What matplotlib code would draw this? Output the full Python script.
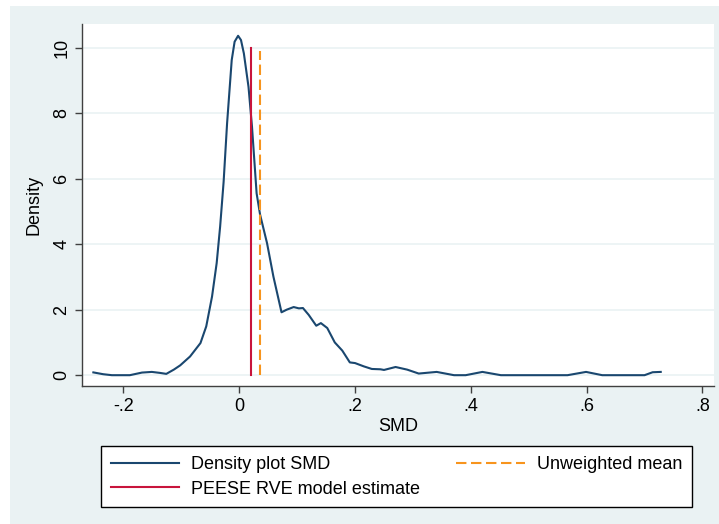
import matplotlib.pyplot as plt
from matplotlib.patches import Rectangle

# density curve of SMD
smd_x = [-0.252, -0.235, -0.220, -0.189, -0.168, -0.151, -0.137, -0.126, -0.113,
         -0.102, -0.085, -0.067, -0.057, -0.047, -0.039, -0.033, -0.027, -0.021,
         -0.013, -0.008, -0.002, 0.003, 0.008, 0.016, 0.022, 0.030, 0.036, 0.048,
         0.059, 0.073, 0.082, 0.094, 0.103, 0.110, 0.120, 0.133, 0.141, 0.152,
         0.165, 0.178, 0.191, 0.200, 0.215, 0.229, 0.244, 0.250, 0.270, 0.290,
         0.310, 0.341, 0.371, 0.391, 0.420, 0.452, 0.567, 0.599, 0.627, 0.700,
         0.714, 0.728]
smd_density = [0.085, 0.03, 0.0, 0.0, 0.08, 0.10, 0.07, 0.04, 0.17,
               0.30, 0.57, 0.98, 1.49, 2.40, 3.42, 4.54, 5.90, 7.69,
               9.62, 10.18, 10.36, 10.23, 9.82, 8.80, 7.59, 5.55, 4.90, 4.03,
               3.01, 1.92, 2.00, 2.08, 2.04, 2.05, 1.84, 1.51, 1.59, 1.44,
               1.00, 0.75, 0.39, 0.37, 0.27, 0.19, 0.18, 0.16, 0.25, 0.17,
               0.05, 0.10, 0.0, 0.0, 0.10, 0.0, 0.0, 0.10, 0.0, 0.0,
               0.09, 0.10]

peese_est = 0.021
unweighted_mean = 0.035
peese_y = [0, 10]
mean_y = [0, 9.9]

x_ticks = [-0.2, 0, 0.2, 0.4, 0.6, 0.8]
x_labels = ['-.2', '0', '.2', '.4', '.6', '.8']
y_ticks = [0, 2, 4, 6, 8, 10]

navy = '#1A476F'
red = '#C8143C'
orange = '#F7941D'
bg = '#EAF2F3'
axcol = '#404040'

plt.rcParams['font.family'] = ['Liberation Sans', 'DejaVu Sans']
plt.rcParams['font.size'] = 13

W, H = 719, 524
fig = plt.figure(figsize=(W / 100, H / 100), dpi=100, facecolor='white')
fig.patches.append(Rectangle((10 / W, 0), (W - 10) / W, (H - 6) / H,
                             transform=fig.transFigure, facecolor=bg,
                             edgecolor='none', zorder=-5))

ax = fig.add_axes([82 / W, 1 - 386 / H, (714 - 82) / W, (386 - 24) / H])
ax.set_zorder(1)
ax.set_facecolor('white')

ax.plot(smd_x, smd_density, color=navy, lw=1.5, solid_joinstyle='round',
        label='Density plot SMD', zorder=3)
ax.plot([peese_est, peese_est], peese_y, color=red, lw=1.5,
        label='PEESE RVE model estimate', zorder=3)
ax.plot([unweighted_mean, unweighted_mean], mean_y, color=orange, lw=1.5,
        dashes=(5, 2.2), label='Unweighted mean', zorder=3)

ax.set_xlim(-0.2716, 0.82)
ax.set_ylim(-0.33, 10.72)
ax.set_xticks(x_ticks)
ax.set_xticklabels(x_labels)
ax.set_yticks(y_ticks)
ax.set_yticklabels([str(v) for v in y_ticks], rotation=90, va='center')
ax.grid(axis='y', color=bg, lw=1.2, zorder=1)
ax.grid(axis='x', visible=False)

for s in ['top', 'right']:
    ax.spines[s].set_visible(False)
for s in ['left', 'bottom']:
    ax.spines[s].set_color(axcol)
    ax.spines[s].set_linewidth(1.0)
ax.tick_params(direction='out', length=5, width=1.0, color=axcol,
               labelcolor='black', pad=3.5)

ax.set_xlabel('SMD', labelpad=2)
ax.set_ylabel('Density', labelpad=8)

leg = ax.legend(loc='upper left', ncol=2,
                bbox_to_anchor=(101 / W, 1 - 446 / H),
                bbox_transform=fig.transFigure, borderaxespad=0,
                handlelength=3.78, handletextpad=0.67, columnspacing=2.0,
                fancybox=False, framealpha=1, edgecolor='black',
                borderpad=0.55, labelspacing=0.42)
leg.get_frame().set_linewidth(1.0)

fig.savefig('out.png', dpi=100, facecolor='white')
